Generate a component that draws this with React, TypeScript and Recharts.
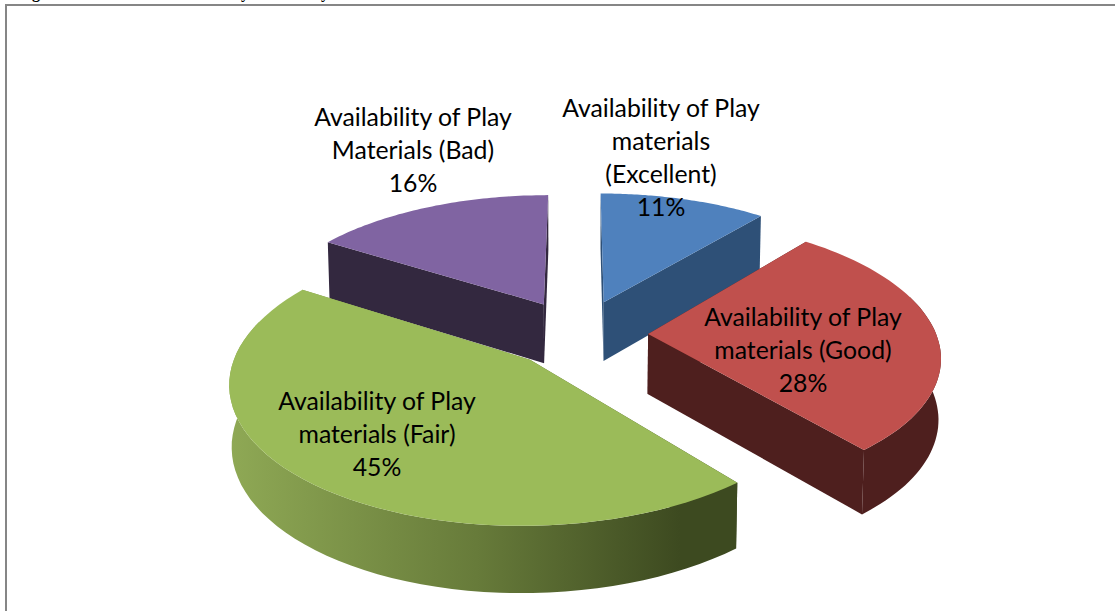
import { PieChart, Pie } from "recharts";

// ── Data ────────────────────────────────────────────────────────────────────
// purple comes first so green paints over its side wall, start angle accounts for it
const SLICE_NAMES = ["Bad", "Excellent", "Good", "Fair"];
const SLICE_VALUES = [16, 11, 28, 45];
const LABEL_LINES = [
  ["Availability of Play", "Materials (Bad)"],
  ["Availability of Play", "materials", "(Excellent)"],
  ["Availability of Play", "materials (Good)"],
  ["Availability of Play", "materials (Fair)"],
];
const CAPTION = "Figure 5: Children Distribution by Availability";

// ── Styling ─────────────────────────────────────────────────────────────────
const TOP_COLORS = ["#8064a2", "#4f81bd", "#c0504d", "#9bbb59"];
const SIDE_COLORS = ["#33283f", "#2e5077", "#4e1f1e", "url(#fairWall)"];
const EXPLODE = [0.262, 0.262, 0.24, 0.25];
const LABEL_CENTERS = [
  [413, 151],
  [661, 158],
  [803, 351],
  [377, 435],
];

const WIDTH = 1115;
const HEIGHT = 611;
const TILT = 0.463; // vertical squash of the disc
const PERSPECTIVE = 0.147;
const DEPTH = 60;
const BOTTOM_SHRINK = 0.993;
const LINE_HEIGHT = 33;

const chartData = SLICE_NAMES.map((name, i) => ({ name, value: SLICE_VALUES[i] }));

// pie plane -> screen, u to the right and v to the back of the disc
function project(cx: number, cy: number, r: number, u: number, v: number, low: boolean) {
  const s = 1 / (1 + PERSPECTIVE * v);
  const shrink = low ? BOTTOM_SHRINK : 1;
  const x = cx + r * u * s * shrink;
  const y = cy - r * TILT * v * s + (low ? DEPTH * Math.pow(s, 0.6) : 0);
  return `${x.toFixed(1)},${y.toFixed(1)}`;
}

function Slice3D(props: any) {
  const { cx, cy, outerRadius: r, startAngle, endAngle, midAngle, index } = props;
  const rad = (d: number) => (d * Math.PI) / 180;
  // recharts angles run counter clockwise from 3 o'clock, here clockwise from 12
  const a0 = rad(90 - startAngle);
  const a1 = rad(90 - endAngle);
  const mid = rad(midAngle);
  const cu = EXPLODE[index] * Math.cos(mid);
  const cv = EXPLODE[index] * Math.sin(mid);
  const at = (a: number, low: boolean) =>
    project(cx, cy, r, cu + Math.sin(a), cv + Math.cos(a), low);

  const steps = 60;
  const angles = Array.from({ length: steps + 1 }, (_, i) => a0 + ((a1 - a0) * i) / steps);
  const apex = project(cx, cy, r, cu, cv, false);
  const apexLow = project(cx, cy, r, cu, cv, true);
  const top = [apex, ...angles.map((a) => at(a, false))].join(" ");
  const front = angles.filter((a) => Math.cos(a) < 0.3);
  const wall = [
    ...front.map((a) => at(a, false)),
    ...[...front].reverse().map((a) => at(a, true)),
  ].join(" ");
  const side = SIDE_COLORS[index];

  return (
    <g>
      <polygon points={`${apex} ${at(a0, false)} ${at(a0, true)} ${apexLow}`} fill={side} />
      <polygon points={`${apex} ${at(a1, false)} ${at(a1, true)} ${apexLow}`} fill={side} />
      {front.length > 1 && <polygon points={wall} fill={side} />}
      <polygon points={top} fill={TOP_COLORS[index]} />
    </g>
  );
}

function SliceLabel(props: any) {
  const { index, percent } = props;
  const lines = [...LABEL_LINES[index], `${Math.round(percent * 100)}%`];
  const [x, yMid] = LABEL_CENTERS[index];
  const firstY = yMid - ((lines.length - 1) * LINE_HEIGHT) / 2 + 8;
  return (
    <text
      x={x}
      y={firstY}
      textAnchor="middle"
      fill="#000"
      style={{ fontFamily: "Lato, sans-serif", fontSize: 24.8 }}
    >
      {lines.map((line, i) => (
        <tspan key={i} x={x} y={firstY + i * LINE_HEIGHT}>
          {line}
        </tspan>
      ))}
    </text>
  );
}

export default function App() {
  return (
    <div
      style={{
        position: "absolute",
        left: 0,
        top: 0,
        width: WIDTH,
        height: HEIGHT,
        overflow: "hidden",
        background: "#fff",
      }}
    >
      {/* caption of the page, cut off by the crop above the frame */}
      <div
        style={{
          position: "absolute",
          left: 18,
          top: -16,
          whiteSpace: "nowrap",
          fontFamily: "'Liberation Serif', serif",
          fontWeight: 700,
          fontSize: 16,
          letterSpacing: -0.15,
          lineHeight: "18px",
        }}
      >
        {CAPTION}
      </div>
      {/* chart frame, runs off the right and bottom of the crop */}
      <div
        style={{
          position: "absolute",
          left: 5,
          top: 4,
          width: WIDTH,
          height: HEIGHT,
          border: "2px solid #868686",
        }}
      />
      <div style={{ position: "absolute", left: 0, top: 0 }}>
        <PieChart width={WIDTH} height={HEIGHT} margin={{ top: 0, right: 0, bottom: 0, left: 0 }}>
          <defs>
            <linearGradient id="fairWall" gradientUnits="userSpaceOnUse" x1="228" y1="0" x2="680" y2="0">
              <stop offset="0%" stopColor="#8fa955" />
              <stop offset="55%" stopColor="#677b3a" />
              <stop offset="100%" stopColor="#3d4a20" />
            </linearGradient>
          </defs>
          <Pie
            data={chartData}
            dataKey="value"
            nameKey="name"
            cx={579}
            cy={334}
            innerRadius={0}
            outerRadius={288}
            startAngle={147.6}
            endAngle={-212.4}
            stroke="none"
            shape={Slice3D}
            label={SliceLabel}
            labelLine={false}
            isAnimationActive={false}
          />
        </PieChart>
      </div>
    </div>
  );
}
